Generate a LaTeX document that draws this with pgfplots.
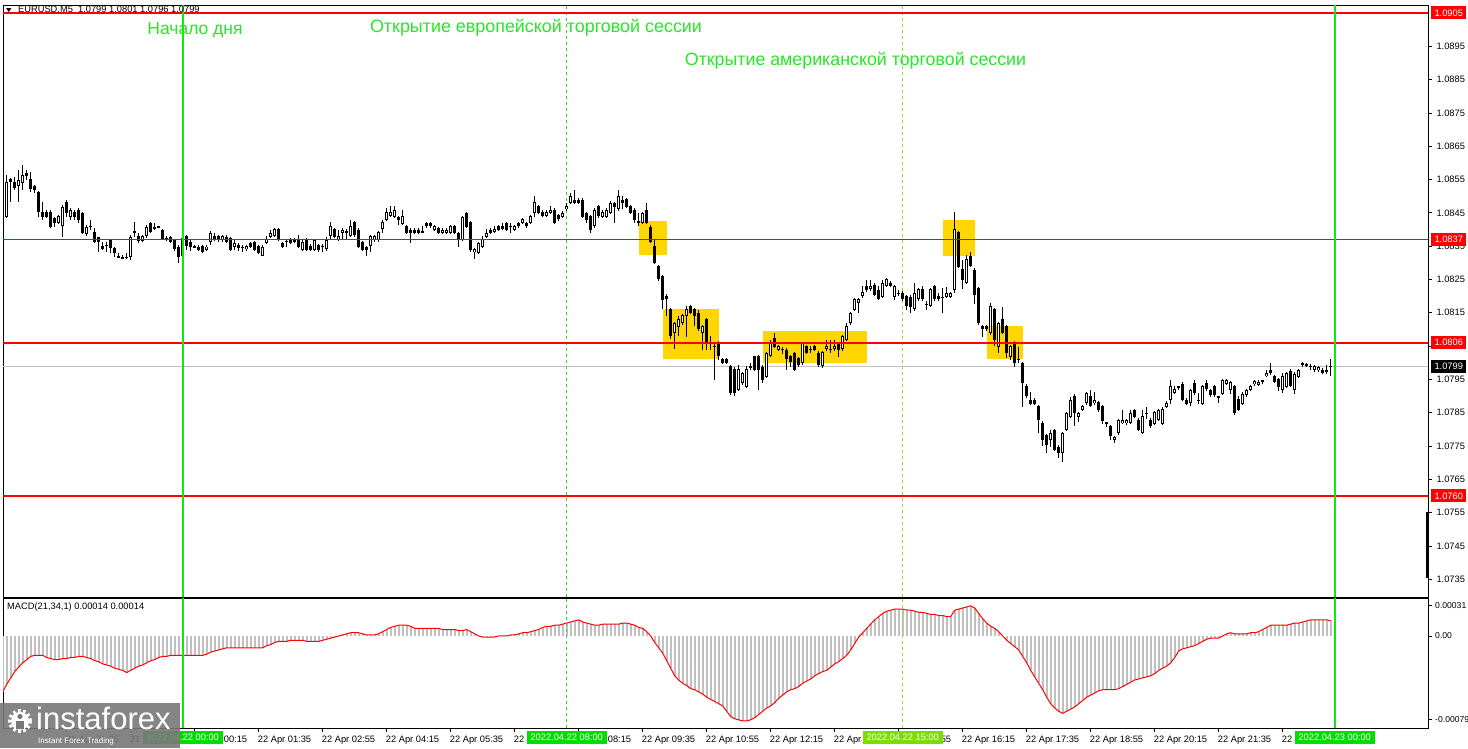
\documentclass[border=0pt]{standalone}
\usepackage{fontspec}
\setmainfont{Liberation Sans}
\usepackage{pgfplots}
\pgfplotsset{compat=1.18}
\usepackage{pgfplotstable}

\definecolor{mtred}{RGB}{255,0,0}
\definecolor{mtgreen}{RGB}{20,230,20}
\definecolor{boxgreen}{RGB}{0,222,0}
\definecolor{boxchart}{RGB}{124,222,0}
\definecolor{gold}{RGB}{255,214,0}
\definecolor{histgray}{RGB}{192,192,192}
\definecolor{dashgreen}{RGB}{60,205,40}
\definecolor{dashyg}{RGB}{150,215,40}
\definecolor{txtgreen}{RGB}{40,230,40}
\definecolor{logogray}{RGB}{120,120,120}

\newcommand\lblfont{\fontsize{9.3}{11}\selectfont}

% bar index (5 min from 22 Apr 00:00), open, high, low, close, MACD (1e-5)
\pgfplotstableread{
i o h l c m
-45 1.08484 1.08509 1.08391 1.08449 -52
-44 1.08439 1.08564 1.08435 1.08542 -45
-43 1.08551 1.08555 1.08484 1.08542 -39
-42 1.08544 1.08560 1.08520 1.08527 -33
-41 1.08531 1.08579 1.08484 1.08551 -29
-40 1.08539 1.08594 1.08519 1.08564 -25
-39 1.08571 1.08580 1.08550 1.08561 -22
-38 1.08551 1.08574 1.08514 1.08521 -19
-37 1.08531 1.08535 1.08510 1.08521 -18
-36 1.08514 1.08518 1.08440 1.08454 -18
-35 1.08454 1.08484 1.08430 1.08439 -18
-34 1.08454 1.08458 1.08435 1.08440 -20
-33 1.08454 1.08460 1.08405 1.08409 -21
-32 1.08434 1.08440 1.08410 1.08419 -22
-31 1.08421 1.08446 1.08417 1.08442 -22
-30 1.08411 1.08475 1.08379 1.08469 -21
-29 1.08484 1.08491 1.08440 1.08451 -21
-28 1.08439 1.08465 1.08429 1.08461 -20
-27 1.08454 1.08460 1.08430 1.08439 -20
-26 1.08461 1.08465 1.08420 1.08429 -19
-25 1.08449 1.08453 1.08387 1.08391 -19
-24 1.08389 1.08414 1.08381 1.08409 -20
-23 1.08410 1.08429 1.08399 1.08412 -21
-22 1.08394 1.08404 1.08360 1.08364 -23
-21 1.08377 1.08379 1.08334 1.08364 -24
-20 1.08351 1.08364 1.08340 1.08341 -26
-19 1.08355 1.08364 1.08334 1.08353 -27
-18 1.08369 1.08372 1.08329 1.08344 -28
-17 1.08344 1.08348 1.08319 1.08329 -30
-16 1.08320 1.08330 1.08315 1.08318 -31
-15 1.08316 1.08325 1.08313 1.08316 -32
-14 1.08317 1.08330 1.08313 1.08318 -34
-13 1.08319 1.08385 1.08310 1.08379 -32
-12 1.08393 1.08424 1.08379 1.08395 -30
-11 1.08381 1.08390 1.08360 1.08367 -28
-10 1.08367 1.08385 1.08363 1.08381 -27
-9 1.08381 1.08415 1.08377 1.08409 -25
-8 1.08421 1.08425 1.08390 1.08394 -23
-7 1.08405 1.08421 1.08401 1.08409 -22
-6 1.08409 1.08412 1.08405 1.08408 -20
-5 1.08399 1.08403 1.08368 1.08371 -19
-4 1.08377 1.08381 1.08365 1.08369 -19
-3 1.08377 1.08381 1.08360 1.08364 -18
-2 1.08369 1.08373 1.08337 1.08341 -18
-1 1.08349 1.08354 1.08301 1.08319 -18
0 1.08320 1.08385 1.08310 1.08375 -18
1 1.08381 1.08385 1.08339 1.08349 -18
2 1.08364 1.08368 1.08335 1.08349 -18
3 1.08350 1.08353 1.08345 1.08349 -18
4 1.08349 1.08353 1.08335 1.08339 -18
5 1.08351 1.08355 1.08330 1.08334 -18
6 1.08339 1.08353 1.08335 1.08349 -17
7 1.08364 1.08395 1.08354 1.08391 -15
8 1.08381 1.08391 1.08365 1.08369 -14
9 1.08381 1.08385 1.08365 1.08369 -13
10 1.08369 1.08385 1.08365 1.08381 -12
11 1.08379 1.08383 1.08360 1.08364 -11
12 1.08374 1.08378 1.08335 1.08339 -11
13 1.08347 1.08369 1.08339 1.08361 -11
14 1.08354 1.08360 1.08334 1.08344 -11
15 1.08346 1.08355 1.08334 1.08348 -11
16 1.08341 1.08355 1.08337 1.08351 -11
17 1.08361 1.08364 1.08345 1.08349 -11
18 1.08361 1.08365 1.08335 1.08339 -11
19 1.08351 1.08355 1.08327 1.08331 -11
20 1.08321 1.08353 1.08319 1.08349 -11
21 1.08361 1.08381 1.08357 1.08374 -9
22 1.08379 1.08399 1.08375 1.08391 -8
23 1.08381 1.08404 1.08377 1.08401 -6
24 1.08401 1.08405 1.08365 1.08369 -5
25 1.08361 1.08365 1.08345 1.08349 -5
26 1.08365 1.08374 1.08349 1.08367 -5
27 1.08371 1.08375 1.08357 1.08361 -4
28 1.08371 1.08375 1.08360 1.08364 -4
29 1.08374 1.08384 1.08345 1.08349 -4
30 1.08339 1.08368 1.08335 1.08364 -4
31 1.08371 1.08375 1.08335 1.08339 -5
32 1.08351 1.08355 1.08335 1.08339 -5
33 1.08339 1.08373 1.08335 1.08369 -5
34 1.08354 1.08358 1.08335 1.08339 -5
35 1.08350 1.08359 1.08334 1.08352 -4
36 1.08341 1.08380 1.08337 1.08369 -3
37 1.08381 1.08424 1.08369 1.08411 -2
38 1.08401 1.08405 1.08375 1.08379 -1
39 1.08369 1.08401 1.08365 1.08381 0
40 1.08391 1.08405 1.08369 1.08401 1
41 1.08393 1.08401 1.08369 1.08395 2
42 1.08381 1.08430 1.08377 1.08411 3
43 1.08424 1.08428 1.08380 1.08384 3
44 1.08401 1.08405 1.08345 1.08349 3
45 1.08361 1.08365 1.08335 1.08339 2
46 1.08349 1.08353 1.08321 1.08339 1
47 1.08349 1.08385 1.08334 1.08381 1
48 1.08369 1.08385 1.08365 1.08381 1
49 1.08369 1.08398 1.08365 1.08394 2
50 1.08401 1.08428 1.08391 1.08424 4
51 1.08429 1.08464 1.08425 1.08454 6
52 1.08441 1.08470 1.08437 1.08454 8
53 1.08439 1.08471 1.08435 1.08461 9
54 1.08439 1.08443 1.08414 1.08429 10
55 1.08419 1.08461 1.08415 1.08441 10
56 1.08411 1.08415 1.08387 1.08391 10
57 1.08401 1.08405 1.08361 1.08391 9
58 1.08401 1.08405 1.08387 1.08391 7
59 1.08401 1.08405 1.08387 1.08391 7
60 1.08393 1.08411 1.08391 1.08395 7
61 1.08421 1.08425 1.08407 1.08411 7
62 1.08421 1.08425 1.08407 1.08411 7
63 1.08401 1.08415 1.08397 1.08411 7
64 1.08404 1.08408 1.08387 1.08391 7
65 1.08391 1.08405 1.08387 1.08401 6
66 1.08391 1.08405 1.08387 1.08401 6
67 1.08391 1.08415 1.08387 1.08411 6
68 1.08411 1.08415 1.08387 1.08391 6
69 1.08391 1.08395 1.08349 1.08369 5
70 1.08369 1.08443 1.08365 1.08439 5
71 1.08451 1.08455 1.08405 1.08409 6
72 1.08424 1.08428 1.08335 1.08339 4
73 1.08331 1.08345 1.08311 1.08341 2
74 1.08331 1.08365 1.08327 1.08361 0
75 1.08349 1.08380 1.08345 1.08374 -1
76 1.08379 1.08401 1.08375 1.08391 -1
77 1.08401 1.08405 1.08387 1.08391 -1
78 1.08394 1.08411 1.08390 1.08404 -1
79 1.08411 1.08415 1.08397 1.08401 0
80 1.08411 1.08421 1.08400 1.08404 0
81 1.08421 1.08425 1.08397 1.08401 0
82 1.08410 1.08419 1.08391 1.08412 1
83 1.08401 1.08415 1.08397 1.08411 1
84 1.08421 1.08425 1.08407 1.08411 2
85 1.08421 1.08435 1.08417 1.08431 3
86 1.08421 1.08425 1.08407 1.08411 3
87 1.08421 1.08445 1.08417 1.08441 4
88 1.08449 1.08501 1.08439 1.08484 5
89 1.08471 1.08475 1.08447 1.08451 6
90 1.08454 1.08458 1.08437 1.08441 8
91 1.08441 1.08458 1.08437 1.08454 9
92 1.08451 1.08471 1.08447 1.08461 9
93 1.08461 1.08465 1.08417 1.08421 10
94 1.08444 1.08448 1.08427 1.08431 10
95 1.08439 1.08456 1.08435 1.08451 11
96 1.08461 1.08480 1.08457 1.08471 12
97 1.08481 1.08511 1.08477 1.08501 13
98 1.08491 1.08521 1.08477 1.08481 14
99 1.08491 1.08495 1.08477 1.08481 15
100 1.08491 1.08495 1.08435 1.08439 13
101 1.08451 1.08455 1.08421 1.08429 12
102 1.08441 1.08445 1.08391 1.08399 11
103 1.08411 1.08465 1.08407 1.08461 10
104 1.08471 1.08475 1.08437 1.08441 10
105 1.08439 1.08458 1.08435 1.08454 11
106 1.08439 1.08465 1.08435 1.08461 11
107 1.08451 1.08485 1.08447 1.08481 11
108 1.08481 1.08485 1.08421 1.08469 11
109 1.08461 1.08521 1.08457 1.08501 11
110 1.08491 1.08501 1.08461 1.08481 12
111 1.08491 1.08495 1.08465 1.08469 12
112 1.08471 1.08475 1.08447 1.08451 11
113 1.08461 1.08465 1.08421 1.08429 10
114 1.08423 1.08451 1.08411 1.08425 8
115 1.08421 1.08455 1.08417 1.08451 7
116 1.08461 1.08481 1.08417 1.08421 4
117 1.08409 1.08413 1.08360 1.08364 0
118 1.08351 1.08370 1.08297 1.08301 -6
119 1.08291 1.08295 1.08247 1.08251 -11
120 1.08261 1.08265 1.08161 1.08189 -16
121 1.08201 1.08205 1.08141 1.08191 -23
122 1.08161 1.08165 1.08071 1.08081 -30
123 1.08089 1.08123 1.08041 1.08119 -37
124 1.08109 1.08141 1.08081 1.08131 -41
125 1.08119 1.08148 1.08115 1.08144 -44
126 1.08139 1.08171 1.08079 1.08161 -46
127 1.08171 1.08175 1.08147 1.08151 -49
128 1.08161 1.08165 1.08110 1.08139 -50
129 1.08149 1.08160 1.08097 1.08101 -52
130 1.08089 1.08114 1.08039 1.08111 -54
131 1.08131 1.08135 1.08040 1.08061 -57
132 1.08059 1.08081 1.08039 1.08062 -59
133 1.08050 1.08061 1.07949 1.08052 -61
134 1.08061 1.08065 1.08009 1.08021 -63
135 1.08011 1.08015 1.07995 1.07999 -65
136 1.08011 1.08015 1.07995 1.07999 -70
137 1.07991 1.07995 1.07903 1.07911 -75
138 1.07981 1.07989 1.07900 1.07911 -77
139 1.07919 1.07993 1.07915 1.07981 -78
140 1.07939 1.07973 1.07935 1.07969 -79
141 1.07929 1.07990 1.07925 1.07981 -79
142 1.07987 1.07999 1.07979 1.07990 -78
143 1.08019 1.08021 1.07975 1.07979 -76
144 1.08021 1.08025 1.07919 1.07979 -73
145 1.07989 1.07993 1.07939 1.07949 -70
146 1.07959 1.08032 1.07955 1.08029 -67
147 1.08021 1.08070 1.08017 1.08061 -65
148 1.08074 1.08090 1.08045 1.08049 -62
149 1.08039 1.08054 1.08035 1.08051 -58
150 1.08040 1.08048 1.08028 1.08041 -55
151 1.08039 1.08043 1.07979 1.08011 -52
152 1.08021 1.08025 1.07990 1.08001 -50
153 1.08029 1.08033 1.07975 1.07979 -49
154 1.08014 1.08018 1.07989 1.07994 -47
155 1.07999 1.08062 1.07995 1.08059 -44
156 1.08051 1.08055 1.08027 1.08031 -42
157 1.08040 1.08051 1.08031 1.08041 -40
158 1.08051 1.08055 1.08035 1.08039 -37
159 1.08031 1.08035 1.07989 1.07994 -35
160 1.07989 1.08034 1.07985 1.08031 -33
161 1.08041 1.08070 1.08037 1.08051 -32
162 1.08040 1.08070 1.08029 1.08041 -29
163 1.08041 1.08070 1.08037 1.08051 -26
164 1.08061 1.08065 1.08020 1.08039 -24
165 1.08041 1.08084 1.08037 1.08081 -21
166 1.08069 1.08120 1.08065 1.08109 -18
167 1.08119 1.08152 1.08115 1.08149 -13
168 1.08159 1.08194 1.08155 1.08191 -7
169 1.08181 1.08194 1.08149 1.08191 -1
170 1.08199 1.08230 1.08195 1.08211 3
171 1.08229 1.08249 1.08213 1.08217 7
172 1.08221 1.08250 1.08217 1.08231 11
173 1.08234 1.08241 1.08200 1.08204 15
174 1.08221 1.08231 1.08189 1.08194 18
175 1.08199 1.08249 1.08195 1.08239 21
176 1.08231 1.08254 1.08227 1.08251 23
177 1.08241 1.08245 1.08227 1.08231 24
178 1.08199 1.08234 1.08190 1.08231 25
179 1.08210 1.08220 1.08200 1.08211 25
180 1.08211 1.08215 1.08185 1.08191 25
181 1.08201 1.08205 1.08160 1.08169 24
182 1.08199 1.08203 1.08150 1.08169 24
183 1.08161 1.08239 1.08157 1.08211 23
184 1.08191 1.08224 1.08187 1.08221 22
185 1.08221 1.08231 1.08187 1.08191 22
186 1.08177 1.08185 1.08159 1.08176 21
187 1.08171 1.08224 1.08167 1.08221 20
188 1.08231 1.08235 1.08187 1.08191 20
189 1.08201 1.08209 1.08187 1.08191 19
190 1.08198 1.08224 1.08149 1.08199 19
191 1.08199 1.08227 1.08195 1.08209 18
192 1.08199 1.08213 1.08195 1.08209 18
193 1.08219 1.08454 1.08209 1.08401 24
194 1.08394 1.08398 1.08285 1.08289 25
195 1.08281 1.08309 1.08221 1.08249 26
196 1.08239 1.08324 1.08235 1.08311 27
197 1.08321 1.08334 1.08287 1.08291 28
198 1.08281 1.08285 1.08179 1.08204 26
199 1.08224 1.08228 1.08115 1.08119 21
200 1.08111 1.08115 1.08079 1.08101 16
201 1.08111 1.08115 1.08097 1.08101 12
202 1.08089 1.08179 1.08085 1.08171 9
203 1.08161 1.08165 1.08049 1.08069 7
204 1.08049 1.08122 1.08029 1.08119 4
205 1.08131 1.08169 1.08087 1.08091 0
206 1.08111 1.08115 1.08014 1.08029 -4
207 1.08019 1.08054 1.08009 1.08051 -7
208 1.08061 1.08065 1.07989 1.07999 -10
209 1.08010 1.08049 1.07999 1.08012 -13
210 1.07999 1.08003 1.07869 1.07939 -19
211 1.07931 1.07935 1.07895 1.07899 -25
212 1.07889 1.07911 1.07873 1.07877 -32
213 1.07889 1.07893 1.07873 1.07877 -38
214 1.07871 1.07875 1.07789 1.07829 -44
215 1.07821 1.07825 1.07749 1.07769 -50
216 1.07784 1.07788 1.07729 1.07754 -57
217 1.07769 1.07799 1.07749 1.07789 -63
218 1.07799 1.07803 1.07735 1.07739 -67
219 1.07749 1.07753 1.07714 1.07729 -70
220 1.07729 1.07792 1.07704 1.07789 -72
221 1.07799 1.07852 1.07795 1.07849 -70
222 1.07839 1.07899 1.07835 1.07889 -68
223 1.07901 1.07905 1.07809 1.07849 -66
224 1.07839 1.07853 1.07824 1.07849 -63
225 1.07859 1.07874 1.07855 1.07871 -60
226 1.07879 1.07913 1.07875 1.07909 -57
227 1.07901 1.07919 1.07867 1.07871 -55
228 1.07879 1.07914 1.07875 1.07889 -53
229 1.07881 1.07885 1.07853 1.07857 -51
230 1.07871 1.07875 1.07817 1.07827 -50
231 1.07821 1.07822 1.07809 1.07820 -50
232 1.07811 1.07815 1.07769 1.07781 -50
233 1.07769 1.07782 1.07759 1.07779 -50
234 1.07789 1.07832 1.07785 1.07829 -49
235 1.07819 1.07859 1.07815 1.07829 -47
236 1.07819 1.07832 1.07815 1.07829 -45
237 1.07819 1.07859 1.07815 1.07849 -43
238 1.07859 1.07863 1.07835 1.07839 -41
239 1.07829 1.07833 1.07795 1.07799 -40
240 1.07789 1.07859 1.07785 1.07839 -39
241 1.07848 1.07869 1.07833 1.07850 -38
242 1.07829 1.07833 1.07805 1.07809 -37
243 1.07818 1.07857 1.07814 1.07853 -35
244 1.07828 1.07862 1.07824 1.07858 -32
245 1.07818 1.07867 1.07814 1.07863 -30
246 1.07868 1.07884 1.07864 1.07880 -28
247 1.07888 1.07948 1.07878 1.07930 -25
248 1.07910 1.07930 1.07906 1.07920 -20
249 1.07927 1.07930 1.07918 1.07929 -14
250 1.07938 1.07943 1.07886 1.07890 -12
251 1.07890 1.07894 1.07874 1.07878 -11
252 1.07878 1.07922 1.07873 1.07918 -10
253 1.07940 1.07948 1.07904 1.07908 -9
254 1.07887 1.07910 1.07878 1.07889 -7
255 1.07878 1.07934 1.07874 1.07930 -5
256 1.07940 1.07948 1.07916 1.07920 -3
257 1.07918 1.07922 1.07899 1.07903 -2
258 1.07930 1.07934 1.07898 1.07903 -2
259 1.07899 1.07900 1.07878 1.07898 -2
260 1.07908 1.07952 1.07904 1.07948 0
261 1.07938 1.07952 1.07934 1.07948 2
262 1.07918 1.07947 1.07908 1.07943 3
263 1.07930 1.07934 1.07844 1.07848 2
264 1.07893 1.07900 1.07854 1.07858 2
265 1.07878 1.07912 1.07874 1.07908 2
266 1.07903 1.07922 1.07899 1.07918 2
267 1.07918 1.07934 1.07914 1.07930 3
268 1.07936 1.07950 1.07932 1.07946 3
269 1.07933 1.07947 1.07929 1.07943 4
270 1.07946 1.07947 1.07938 1.07945 6
271 1.07960 1.07978 1.07956 1.07970 8
272 1.07978 1.08000 1.07964 1.07968 10
273 1.07960 1.07964 1.07939 1.07943 10
274 1.07953 1.07957 1.07918 1.07930 10
275 1.07918 1.07968 1.07908 1.07960 10
276 1.07928 1.07974 1.07924 1.07970 10
277 1.07978 1.07982 1.07929 1.07933 11
278 1.07918 1.07972 1.07908 1.07968 12
279 1.07958 1.07982 1.07954 1.07978 12
280 1.07998 1.08003 1.07988 1.07997 13
281 1.07996 1.08000 1.07987 1.07995 14
282 1.07990 1.07998 1.07980 1.07991 15
283 1.07978 1.07994 1.07974 1.07990 15
284 1.07978 1.07992 1.07974 1.07988 15
285 1.07980 1.07984 1.07966 1.07970 15
286 1.07976 1.07992 1.07966 1.07977 15
287 1.07990 1.08010 1.07960 1.07991 14
}\candles

\begin{document}
\begin{tikzpicture}
\useasboundingbox (0pt,0pt) rectangle (1468pt,-748pt);
\fill[white] (0pt,0pt) rectangle (1468pt,-748pt);

% ---------------- price panel ----------------
\begin{axis}[
  at={(3pt,-5pt)}, anchor=north west, scale only axis,
  width=1425pt, height=592pt,
  xmin=-44.93, xmax=311.33, ymin=1.072967, ymax=1.09074,
  axis line style={line width=1pt},
  xtick=\empty,
  ytick={1.0735,1.0745,1.0755,1.0765,1.0775,1.0785,1.0795,1.0805,1.0815,1.0825,1.0835,1.0845,1.0855,1.0865,1.0875,1.0885,1.0895},
  ytick pos=right, yticklabel pos=right, tick align=outside, major tick length=4pt,
  tick style={black, line width=0.8pt},
  scaled y ticks=false,
  yticklabel style={font=\lblfont, anchor=west, xshift=1pt,
    /pgf/number format/fixed, /pgf/number format/fixed zerofill,
    /pgf/number format/precision=4, /pgf/number format/assume math mode=true},
  clip mode=individual,
]
% rectangles (drawn behind)
\fill[gold] (114.1,1.083235) rectangle (121.1,1.084255);
\fill[gold] (120.1,1.08011) rectangle (134.1,1.08161);
\fill[gold] (145.1,1.07999) rectangle (171.1,1.08095);
\fill[gold] (190.1,1.083205) rectangle (198.1,1.08429);
\fill[gold] (201.1,1.08011) rectangle (210.1,1.08110);
\draw[dashgreen, line width=0.8pt, dash pattern=on 3pt off 3pt] (96,1.072967) -- (96,1.09074);
\draw[dashyg, line width=0.8pt, dash pattern=on 3pt off 3pt] (180,1.072967) -- (180,1.09074);
\draw[histgray, line width=1pt] (-44.93,1.0799) -- (311.33,1.0799);

% wicks
\addplot[draw=none, mark=none, forget plot,
  error bars/.cd, y dir=both, y explicit, error mark=none,
  error bar style={draw=black, solid, line width=1pt}]
  table[x=i, y expr={(\thisrow{h}+\thisrow{l})/2}, y error expr={(\thisrow{h}-\thisrow{l})/2}] {\candles};
% bodies
\addplot[draw=none, mark=none, forget plot,
  error bars/.cd, y dir=both, y explicit, error mark=none,
  error bar style={draw=black, solid, line width=3pt}]
  table[x=i, y expr={(\thisrow{o}+\thisrow{c})/2}, y error expr={max(abs(\thisrow{c}-\thisrow{o})/2,0.000017)}] {\candles};
% hollow inside of rising bars
\addplot[draw=none, mark=none, forget plot,
  restrict expr to domain={\thisrow{c}-\thisrow{o}}{0.00007:1},
  error bars/.cd, y dir=both, y explicit, error mark=none,
  error bar style={draw=white, solid, line width=1pt}]
  table[x=i, y expr={(\thisrow{o}+\thisrow{c})/2}, y error expr={(\thisrow{c}-\thisrow{o})/2-0.00003}] {\candles};

% horizontal levels on top of the bars
\draw[mtred, line width=1.1pt] (-44.93,1.0905) -- (311.33,1.0905);
\draw[mtred, line width=1.2pt] (-44.93,1.0837) -- (311.33,1.0837);
\draw[mtred, line width=2pt] (-44.93,1.0806) -- (311.33,1.0806);
\draw[mtred, line width=2pt] (-44.93,1.0760) -- (311.33,1.0760);
\draw[mtgreen, line width=2pt] (0,1.072967) -- (0,1.09074);
\draw[mtgreen, line width=2pt] (288,1.072967) -- (288,1.09074);

\coordinate (p1) at (311.33,1.0905);
\coordinate (p2) at (311.33,1.0837);
\coordinate (p3) at (311.33,1.0806);
\coordinate (p4) at (311.33,1.0799);
\coordinate (p5) at (311.33,1.0760);
\end{axis}

% ---------------- MACD panel ----------------
\begin{axis}[
  at={(3pt,-598pt)}, anchor=north west, scale only axis,
  width=1425pt, height=130pt,
  xmin=-44.93, xmax=311.33, ymin=-85.6, ymax=35.3,
  axis line style={line width=1pt},
  ytick={-78,0,28}, yticklabels={-0.00079,0.00,0.00031},
  ytick pos=right, yticklabel pos=right,
  xtick={-45,-29,...,275}, xtick pos=bottom,
  xticklabels={21 Apr 2022, 21 Apr 21:35, 21 Apr 22:55, 22 Apr 00:15, 22 Apr 01:35, 22 Apr 02:55, 22 Apr 04:15, 22 Apr 05:35, 22 Apr 06:55, 22 Apr 08:15, 22 Apr 09:35, 22 Apr 10:55, 22 Apr 12:15, 22 Apr 13:35, 22 Apr 14:55, 22 Apr 16:15, 22 Apr 17:35, 22 Apr 18:55, 22 Apr 20:15, 22 Apr 21:35, 22 Apr 22:55},
  tick align=outside, major tick length=4pt,
  tick style={black, line width=0.8pt},
  xticklabel style={font=\lblfont, anchor=north west, inner sep=0pt, xshift=-1pt, yshift=-4pt},
  yticklabel style={font=\fontsize{8.6}{10}\selectfont, anchor=west, inner sep=0pt, xshift=3pt},
  clip mode=individual,
]
\addplot[ycomb, histgray, line width=2pt, mark=none] table[x=i, y=m] {\candles};
\addplot[mtred, line width=1pt, mark=none] table[x=i, y=m] {\candles};
\draw[dashgreen, line width=0.8pt, dash pattern=on 3pt off 3pt] (96,-85.6) -- (96,35.3);
\draw[dashyg, line width=0.8pt, dash pattern=on 3pt off 3pt] (180,-85.6) -- (180,35.3);
\draw[mtgreen, line width=2pt] (0,-85.6) -- (0,35.3);
\draw[mtgreen, line width=2pt] (288,-85.6) -- (288,35.3);
\coordinate (b0) at (0,-85.6);
\coordinate (b1) at (96,-85.6);
\coordinate (b2) at (180,-85.6);
\coordinate (b3) at (288,-85.6);
\end{axis}

% price labels on the right
\foreach \pp/\tt/\cc in {p1/1.0905/mtred, p2/1.0837/mtred, p3/1.0806/mtred, p4/1.0799/black, p5/1.0760/mtred}
  \node[fill=\cc, text=white, font=\lblfont, minimum width=35pt, minimum height=13pt, inner sep=0pt, anchor=west]
    at ([xshift=3pt]\pp) {\tt};
\draw[black, line width=3pt] (1427pt,-512pt) -- (1427pt,-578pt);

% date boxes at the bottom
\foreach \bb/\tt/\cc in {b0/2022.04.22 00:00/boxgreen, b1/2022.04.22 08:00/boxgreen, b2/2022.04.22 15:00/boxchart, b3/2022.04.23 00:00/boxgreen}
  \node[fill=\cc, text=white, font=\lblfont, minimum width=80pt, minimum height=13pt, inner sep=0pt, anchor=north]
    at ([yshift=-3pt]\bb) {\tt};

% header texts
\fill[black] (6pt,-8pt) -- (11.5pt,-8pt) -- (8.75pt,-12pt) -- cycle;
\node[anchor=west, font=\lblfont, inner sep=0pt] at (18pt,-10pt) {EURUSD,M5\ \ 1.0799 1.0801 1.0796 1.0799};
\node[anchor=west, font=\lblfont, inner sep=0pt] at (7pt,-607pt) {MACD(21,34,1) 0.00014 0.00014};

% session notes
\node[txtgreen, font=\fontsize{17.5}{20}\selectfont, inner sep=0pt] at (195pt,-30pt) {Начало дня};
\node[txtgreen, font=\fontsize{17.9}{20}\selectfont, inner sep=0pt] at (536pt,-28pt) {Открытие европейской торговой сессии};
\node[txtgreen, font=\fontsize{17.8}{20}\selectfont, inner sep=0pt] at (855.5pt,-61pt) {Открытие американской торговой сессии};

% logo
\fill[logogray, fill opacity=0.9] (0pt,-703pt) rectangle (180pt,-748pt);
\draw[white, line width=4pt, dash pattern=on 2.6pt off 2.4pt] (20pt,-721pt) circle (10pt);
\fill[white] (20pt,-721pt) circle (9pt);
\fill[logogray] (20pt,-716.5pt) circle (2.6pt);
\fill[logogray] (16pt,-729pt) rectangle (24pt,-720.5pt);
\node[white, anchor=west, font=\fontsize{31}{31}\selectfont, inner sep=0pt] at (36pt,-718pt) {instaforex};
\node[white, anchor=west, font=\fontsize{8}{9}\selectfont, inner sep=0pt] at (38pt,-741pt) {Instant Forex Trading};
\end{tikzpicture}
\end{document}
